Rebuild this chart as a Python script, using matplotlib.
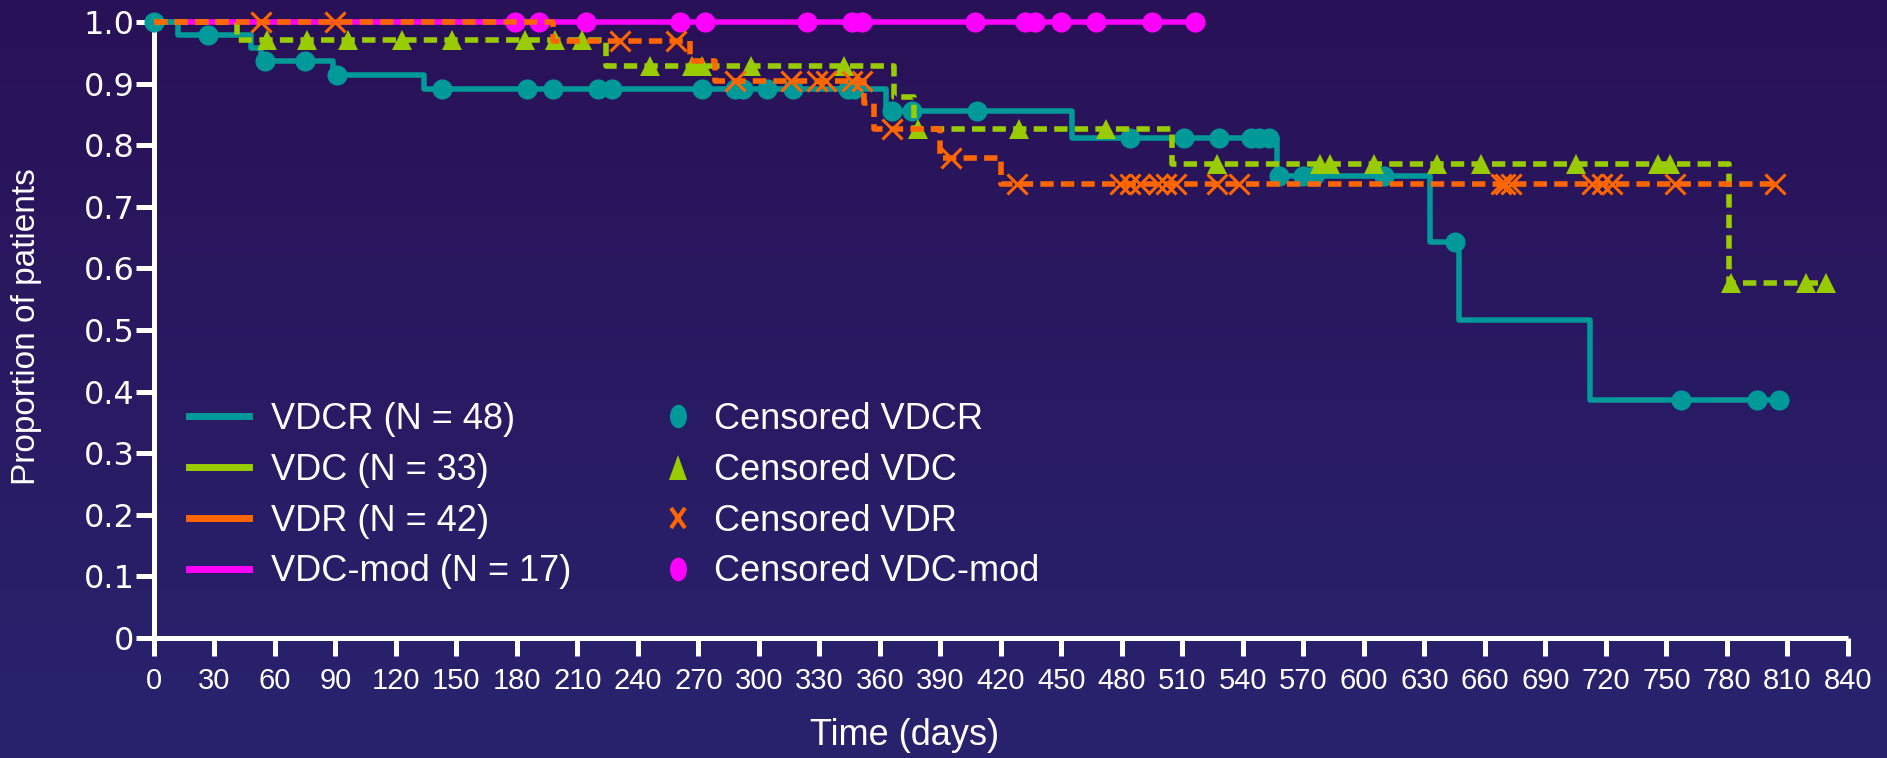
import numpy as np
import matplotlib
matplotlib.use("Agg")
import matplotlib.pyplot as plt
from matplotlib import font_manager
from matplotlib.colors import LinearSegmentedColormap
from matplotlib.lines import Line2D
from matplotlib.markers import MarkerStyle
from matplotlib.transforms import Affine2D

# ---- data (days, proportion) ----
vdcr_event_days = [12, 48, 53, 89, 134, 363, 455, 557, 633, 647, 712]
vdcr_surv = [0.979, 0.958, 0.937, 0.914, 0.891, 0.855, 0.812, 0.750, 0.643, 0.516, 0.387]
vdcr_censor_days = [0, 27, 55, 75, 91, 143, 185, 198, 220, 227, 272, 288, 292, 304, 317,
                    344, 347, 366, 376, 408, 484, 511, 528, 544, 548, 553, 558, 570, 575,
                    610, 645, 757, 795, 806]
vdcr_end = 806

vdc_event_days = [41, 224, 367, 377, 505, 781]
vdc_surv = [0.970, 0.929, 0.878, 0.827, 0.769, 0.576]
vdc_censor_days = [56, 76, 96, 123, 148, 184, 199, 212, 246, 267, 272, 296, 342, 379, 429,
                   472, 527, 578, 583, 605, 636, 658, 705, 746, 752, 782, 819, 829]
vdc_end = 829

vdr_event_days = [198, 266, 278, 352, 357, 390, 420]
vdr_surv = [0.969, 0.937, 0.905, 0.868, 0.826, 0.779, 0.737]
vdr_censor_days = [53, 90, 231, 259, 288, 316, 329, 333, 346, 351, 366, 395, 428, 479, 484,
                   489, 498, 502, 507, 527, 538, 668, 670, 673, 713, 718, 723, 754, 804]
vdr_end = 804

vdcmod_event_days = []
vdcmod_surv = []
vdcmod_censor_days = [179, 191, 214, 261, 273, 324, 346, 351, 407, 432, 437, 450, 467, 495, 516]
vdcmod_end = 516

series_names = ["VDCR (N = 48)", "VDC (N = 33)", "VDR (N = 42)", "VDC-mod (N = 17)"]
censor_names = ["Censored VDCR", "Censored VDC", "Censored VDR", "Censored VDC-mod"]
x_ticks = list(range(0, 841, 30))
y_ticks = [0, 0.1, 0.2, 0.3, 0.4, 0.5, 0.6, 0.7, 0.8, 0.9, 1.0]
y_tick_labels = ["0", "0.1", "0.2", "0.3", "0.4", "0.5", "0.6", "0.7", "0.8", "0.9", "1.0"]

TEAL = "#009999"
GREEN = "#99CC00"
ORANGE = "#FF6600"
MAGENTA = "#FF00FF"
WHITE = "white"

names = {f.name for f in font_manager.fontManager.ttflist}
narrow = "Liberation Sans Narrow" if "Liberation Sans Narrow" in names else "Liberation Sans"
plt.rcParams["font.family"] = ["Liberation Sans", "DejaVu Sans"]


def km_curve(event_days, surv, end):
    t = [0] + list(event_days) + [end]
    s = [1.0] + list(surv) + [surv[-1] if surv else 1.0]
    return t, s


def level_at(event_days, surv, days):
    levels = np.array([1.0] + list(surv))
    idx = np.searchsorted(np.array(event_days, dtype=float), np.array(days, dtype=float), side="right")
    return levels[idx]


fig = plt.figure(figsize=(18.87, 7.58), dpi=100)

# background gradient
bg = fig.add_axes([0, 0, 1, 1], zorder=-10)
cmap = LinearSegmentedColormap.from_list("bg", ["#2A1157", "#28236E"])
bg.imshow(np.linspace(0, 1, 256).reshape(-1, 1), cmap=cmap, aspect="auto", extent=[0, 1, 0, 1])
bg.axis("off")

ax = fig.add_axes([0.0816, 0.1583, 0.8977, 0.8127])
ax.set_facecolor("none")

lw = 4.0
dash = (0, (2.4, 1.3))
series = [
    (vdcr_event_days, vdcr_surv, vdcr_censor_days, vdcr_end, TEAL, "-", "o", 14.5),
    (vdc_event_days, vdc_surv, vdc_censor_days, vdc_end, GREEN, dash, "^", 14.5),
    (vdr_event_days, vdr_surv, vdr_censor_days, vdr_end, ORANGE, dash, "x", 14.0),
    (vdcmod_event_days, vdcmod_surv, vdcmod_censor_days, vdcmod_end, MAGENTA, "-", "o", 14.5),
]
zorders = [4, 5, 6, 3]

for (ev, sv, cd, end, col, ls, mk, ms), z in zip(series, zorders):
    t, s = km_curve(ev, sv, end)
    ax.step(t, s, where="post", color=col, lw=lw, ls=ls, clip_on=False, zorder=z,
            solid_capstyle="butt", dash_capstyle="butt")
    cy = level_at(ev, sv, cd)
    if mk == "x":
        ax.plot(cd, cy, ls="none", marker="x", ms=ms, mew=2.2, color=col, clip_on=False, zorder=z + 0.5)
    else:
        ax.plot(cd, cy, ls="none", marker=mk, ms=ms, mew=0, color=col, clip_on=False, zorder=z + 0.5)

ax.set_xlim(0, 840)
ax.set_ylim(0, 1.0)
ax.set_xticks(x_ticks)
ax.set_xticklabels([str(v) for v in x_ticks], fontsize=21, family=narrow, color=WHITE)
ax.set_yticks(y_ticks)
ax.set_yticklabels(y_tick_labels, fontsize=23, family="DejaVu Sans", color=WHITE)

for side in ["top", "right"]:
    ax.spines[side].set_visible(False)
for side in ["left", "bottom"]:
    ax.spines[side].set_color(WHITE)
    ax.spines[side].set_linewidth(3.6)
    ax.spines[side].set_capstyle("butt")
ax.tick_params(axis="both", colors=WHITE, width=3.6, length=13, direction="out")
ax.tick_params(axis="x", pad=8)
ax.tick_params(axis="y", pad=1)

ax.set_xlabel("Time (days)", fontsize=26, color=WHITE)
ax.xaxis.set_label_coords(0.443, -0.159)
ax.xaxis.label.set_va("center")
ax.set_ylabel("Proportion of patients", fontsize=24, color=WHITE)
ax.yaxis.set_label_coords(-0.0753, 0.505)
ax.yaxis.label.set_va("center")

# legend: lines column and censored-marker column
line_handles = [Line2D([], [], color=c, lw=5) for c in [TEAL, GREEN, ORANGE, MAGENTA]]
squash = Affine2D().scale(0.72, 1.0)
mark_handles = [
    Line2D([], [], ls="none", marker=MarkerStyle("o", transform=squash), ms=17, mew=0, color=TEAL),
    Line2D([], [], ls="none", marker=MarkerStyle("^", transform=squash), ms=18, mew=0, color=GREEN),
    Line2D([], [], ls="none", marker=MarkerStyle("x", transform=squash), ms=14, mew=3, color=ORANGE),
    Line2D([], [], ls="none", marker=MarkerStyle("o", transform=squash), ms=17, mew=0, color=MAGENTA),
]
common = dict(loc="upper left", frameon=False, fontsize=26, labelspacing=0.44,
              borderpad=0, borderaxespad=0)
leg1 = fig.legend(line_handles, series_names, bbox_to_anchor=(0.1, 0.470),
                  handlelength=1.67, handletextpad=0.6, **common)
leg2 = fig.legend(mark_handles, censor_names, bbox_to_anchor=(0.3495, 0.470),
                  handlelength=1.0, handletextpad=0.5, **common)
for leg in (leg1, leg2):
    for txt in leg.get_texts():
        txt.set_color(WHITE)

fig.savefig("out.png", dpi=100)
